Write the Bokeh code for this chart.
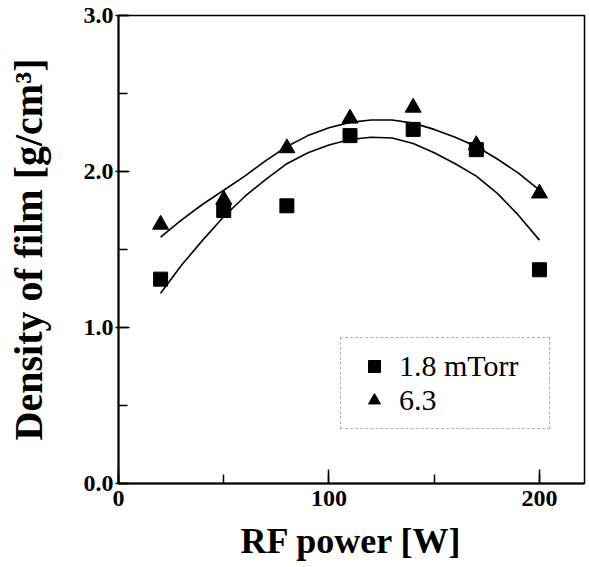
from bokeh.plotting import figure
from bokeh.models import Range1d, SingleIntervalTicker, PrintfTickFormatter, Legend, LegendItem
from bokeh.embed import file_html
from bokeh.resources import INLINE

# RF power [W]
power = [20, 50, 80, 110, 140, 170, 200]
# density of film [g/cm3]
dens_18 = [1.31, 1.75, 1.78, 2.23, 2.27, 2.14, 1.37]   # 1.8 mTorr
dens_63 = [1.66, 1.82, 2.15, 2.34, 2.41, 2.17, 1.86]   # 6.3 mTorr

# fitted curves
fit_x = [20, 30, 40, 50, 60, 70, 80, 90, 100, 110, 120, 130, 140, 150, 160, 170, 180, 190, 200]
fit_18 = [1.22, 1.40, 1.56, 1.71, 1.84, 1.95, 2.05, 2.12, 2.17, 2.205, 2.22, 2.215, 2.18, 2.12,
          2.05, 1.97, 1.86, 1.72, 1.56]
fit_63 = [1.58, 1.69, 1.79, 1.88, 1.97, 2.07, 2.16, 2.23, 2.28, 2.315, 2.33, 2.33, 2.31, 2.27,
          2.22, 2.16, 2.08, 1.99, 1.88]

legend_labels = ["1.8 mTorr", "6.3"]

p = figure(width=589, height=567, x_range=Range1d(0, 221.4), y_range=Range1d(0, 3),
           output_backend="svg", toolbar_location=None,
           min_border_left=118, min_border_right=5, min_border_top=15, min_border_bottom=84)

p.xgrid.visible = False
p.ygrid.visible = False
p.outline_line_color = "black"
p.outline_line_width = 1.5
p.background_fill_color = "white"
p.border_fill_color = "white"

p.line(fit_x, fit_63, line_color="black", line_width=1.6)
p.line(fit_x, fit_18, line_color="black", line_width=1.6)

tri = p.scatter(power, dens_63, marker="triangle", size=16, fill_color="black", line_color="black")
sq = p.scatter(power, dens_18, marker="square", size=14, fill_color="black", line_color="black")

serif = "Liberation Serif"

xa = p.xaxis[0]
xa.ticker = SingleIntervalTicker(interval=100, num_minor_ticks=2)
xa.axis_label = "RF power [W]"
xa.axis_label_text_font = serif
xa.axis_label_text_font_style = "bold"
xa.axis_label_text_font_size = "36px"
xa.axis_label_text_color = "black"
xa.axis_label_standoff = 12
xa.major_label_text_font = serif
xa.major_label_text_font_style = "bold"
xa.major_label_text_font_size = "24px"
xa.major_label_text_color = "black"
xa.major_label_standoff = 7
xa.major_tick_in = 14
xa.major_tick_out = 0
xa.minor_tick_in = 9
xa.minor_tick_out = 0
xa.axis_line_width = 2
xa.major_tick_line_width = 1.5
xa.minor_tick_line_width = 1.5

ya = p.yaxis[0]
ya.ticker = SingleIntervalTicker(interval=1, num_minor_ticks=2)
ya.formatter = PrintfTickFormatter(format="%.1f")
ya.axis_label = "Density of film [g/cm³]"
ya.axis_label_text_font = serif
ya.axis_label_text_font_style = "bold"
ya.axis_label_text_font_size = "40px"
ya.axis_label_text_color = "black"
ya.axis_label_standoff = 30
ya.major_label_text_font = serif
ya.major_label_text_font_style = "bold"
ya.major_label_text_font_size = "24px"
ya.major_label_text_color = "black"
ya.major_label_standoff = 2
ya.major_tick_in = 11
ya.major_tick_out = 3
ya.minor_tick_in = 9
ya.minor_tick_out = 0
ya.axis_line_width = 2
ya.major_tick_line_width = 1.5
ya.minor_tick_line_width = 1.5

legend = Legend(items=[LegendItem(label=legend_labels[0], renderers=[sq]),
                       LegendItem(label=legend_labels[1], renderers=[tri])],
                location=(222, 54))
legend.border_line_color = "#666666"
legend.border_line_dash = "4 3"
legend.border_line_width = 1
legend.background_fill_color = "white"
legend.background_fill_alpha = 1.0
legend.padding = 11
legend.spacing = 0
legend.margin = 0
legend.glyph_width = 44
legend.glyph_height = 30
legend.label_height = 30
legend.label_width = 139
legend.label_standoff = 3
legend.label_text_font = serif
legend.label_text_font_size = "30px"
legend.label_text_color = "black"
p.add_layout(legend)

open("out.html", "w").write(file_html(p, INLINE))
